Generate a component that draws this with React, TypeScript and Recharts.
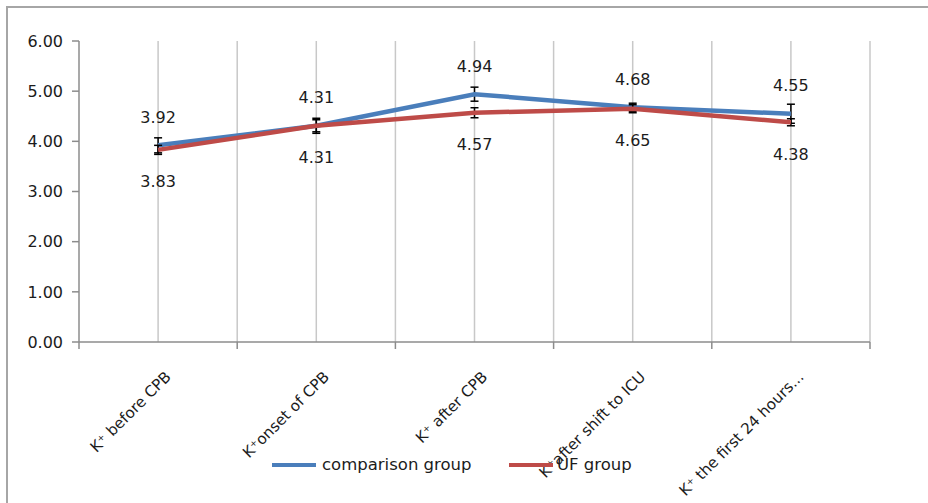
import React from "react";
import {
  LineChart,
  Line,
  XAxis,
  YAxis,
  CartesianGrid,
  ErrorBar,
  LabelList,
} from "recharts";

const categories = [
  "K⁺ before CPB",
  "K⁺onset of CPB",
  "K⁺ after CPB",
  "K⁺after shift to ICU",
  "K⁺ the first 24 hours...",
];
const comparisonGroup = [3.92, 4.31, 4.94, 4.68, 4.55];
const comparisonErr = [0.15, 0.15, 0.14, 0.08, 0.19];
const ufGroup = [3.83, 4.31, 4.57, 4.65, 4.38];
const ufErr = [0.09, 0.12, 0.1, 0.08, 0.07];
const yTicks = [0, 1, 2, 3, 4, 5, 6];

const data = categories.map((name, i) => ({
  name,
  comparison: comparisonGroup[i],
  comparisonErr: comparisonErr[i],
  uf: ufGroup[i],
  ufErr: ufErr[i],
}));

const W = 928;
const H = 503;
const margin = { top: 41, right: 58, bottom: 0, left: 0 };
const Y_AXIS_W = 79;
const X_AXIS_H = 161;
const PLOT_W = W - margin.left - margin.right - Y_AXIS_W;
const HALF_STEP = PLOT_W / (2 * categories.length);

const FONT = "'DejaVu Sans', sans-serif";
const TEXT = "#1c1c1c";
const BLUE = "#4a7ebb";
const RED = "#be4b48";

function CategoryTick(props: any) {
  const { x, y, payload, index } = props;
  const axisY = y - 8;
  const last = index === categories.length - 1;
  return (
    <g>
      <line x1={x - HALF_STEP} y1={axisY} x2={x - HALF_STEP} y2={axisY + 7} stroke="#8c8c8c" strokeWidth={1.5} />
      {last && (
        <line x1={x + HALF_STEP} y1={axisY} x2={x + HALF_STEP} y2={axisY + 7} stroke="#8c8c8c" strokeWidth={1.5} />
      )}
      <text
        transform={`translate(${x + 10},${axisY + 32}) rotate(-45)`}
        textAnchor="end"
        dy="0.35em"
        fontSize={15.2}
        fontFamily={FONT}
        fill={TEXT}
      >
        {payload.value}
      </text>
    </g>
  );
}

function makeLabel(offset: number) {
  return (props: any) => {
    const { x, y, value } = props;
    return (
      <text
        x={x}
        y={y + offset}
        textAnchor="middle"
        dy="0.35em"
        fontSize={16}
        fontFamily={FONT}
        fill={TEXT}
      >
        {Number(value).toFixed(2)}
      </text>
    );
  };
}

export default function App() {
  return (
    <div
      style={{
        position: "absolute",
        left: 0,
        top: 0,
        width: W,
        height: H,
        background: "#fff",
        fontFamily: FONT,
        overflow: "hidden",
      }}
    >
      <div
        style={{
          position: "absolute",
          left: 6,
          top: 6,
          right: 0,
          bottom: 0,
          borderTop: "2px solid #a6a6a6",
          borderLeft: "2px solid #a6a6a6",
        }}
      />
      <LineChart width={W} height={H} data={data} margin={margin}>
        <CartesianGrid
          horizontal={false}
          stroke="#c8c8c8"
          strokeWidth={1.5}
          verticalCoordinatesGenerator={({ offset }: any) =>
            Array.from({ length: 2 * categories.length }, (_, k) =>
              offset.left + ((k + 1) * offset.width) / (2 * categories.length)
            )
          }
        />
        <XAxis
          dataKey="name"
          interval={0}
          height={X_AXIS_H}
          padding={{ left: HALF_STEP, right: HALF_STEP }}
          tickLine={false}
          axisLine={{ stroke: "#8c8c8c", strokeWidth: 1.5 }}
          tick={<CategoryTick />}
        />
        <YAxis
          domain={[0, 6]}
          ticks={yTicks}
          width={Y_AXIS_W}
          tickSize={7}
          tickMargin={9}
          tickFormatter={(v: number) => v.toFixed(2)}
          tick={{ fill: TEXT, fontSize: 16, fontFamily: FONT }}
          tickLine={{ stroke: "#8c8c8c", strokeWidth: 1.5 }}
          axisLine={{ stroke: "#8c8c8c", strokeWidth: 1.5 }}
        />
        <Line
          type="linear"
          dataKey="comparison"
          stroke={BLUE}
          strokeWidth={4.5}
          dot={false}
          isAnimationActive={false}
        >
          <ErrorBar dataKey="comparisonErr" direction="y" width={4} stroke="#000" strokeWidth={1.5} />
          <LabelList dataKey="comparison" content={makeLabel(-28)} />
        </Line>
        <Line
          type="linear"
          dataKey="uf"
          stroke={RED}
          strokeWidth={4.5}
          dot={false}
          isAnimationActive={false}
        >
          <ErrorBar dataKey="ufErr" direction="y" width={4} stroke="#000" strokeWidth={1.5} />
          <LabelList dataKey="uf" content={makeLabel(32)} />
        </Line>
      </LineChart>
      <div style={{ position: "absolute", left: 272, top: 463, width: 44, height: 4, background: BLUE }} />
      <div style={{ position: "absolute", left: 322, top: 455, fontSize: 16.5, color: TEXT, lineHeight: "20px" }}>
        comparison group
      </div>
      <div style={{ position: "absolute", left: 509, top: 463, width: 44, height: 4, background: RED }} />
      <div style={{ position: "absolute", left: 557, top: 455, fontSize: 16.5, color: TEXT, lineHeight: "20px" }}>
        UF group
      </div>
    </div>
  );
}
